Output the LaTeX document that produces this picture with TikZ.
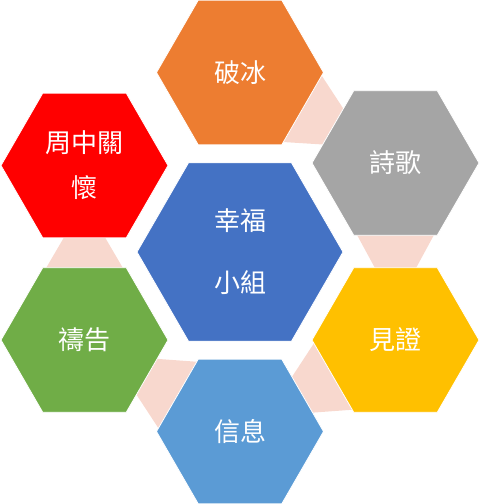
\documentclass[tikz,border=0pt]{standalone}
\usepackage{fontspec}
\usepackage{xcolor}
\usetikzlibrary{calc,shapes.geometric,backgrounds}
\newfontfamily\cjkfont{Noto Sans CJK TC}
\definecolor{hexOrange}{RGB}{237,125,49}
\definecolor{hexGray}{RGB}{165,165,165}
\definecolor{hexGold}{RGB}{255,192,0}
\definecolor{hexSky}{RGB}{91,155,213}
\definecolor{hexGreen}{RGB}{112,173,71}
\definecolor{hexBlue}{RGB}{68,114,196}
\definecolor{hexRed}{RGB}{255,0,0}
\definecolor{linkPink}{RGB}{248,216,206}
% trapezoid between two neighbouring hexagons, wide end at the first one
\newcommand\flowlink[2]{%
  \path ($(#1)!71pt!(#2)$) coordinate (wide) ($(#2)!71pt!(#1)$) coordinate (narrow);
  \fill[linkfill] ($(wide)!39pt!90:(#2)$) -- ($(wide)!39pt!-90:(#2)$)
    -- ($(narrow)!20pt!90:(#1)$) -- ($(narrow)!20pt!-90:(#1)$) -- cycle;}

\begin{document}
\begin{tikzpicture}[x=1pt,y=-1pt,
  hexbox/.style={regular polygon, regular polygon sides=6, minimum size=167pt, inner sep=0pt,
    draw=white, line width=0.8pt, text=white, align=center,
    font=\cjkfont\fontsize{26}{31}\selectfont},
  linkfill/.style={fill=linkPink}]
\useasboundingbox (0,0) rectangle (480,504);

\node[hexbox, fill=hexBlue, minimum size=206pt, font=\cjkfont\fontsize{26}{62}\selectfont] (group) at (240,252) {幸福\\小組};
\node[hexbox, fill=hexOrange] (ice) at (240,72.5) {破冰};
\node[hexbox, fill=hexGray] (song) at (395.5,163) {詩歌};
\node[hexbox, fill=hexGold] (witness) at (395.5,340) {見證};
\node[hexbox, fill=hexSky] (message) at (240,431.5) {信息};
\node[hexbox, fill=hexGreen] (prayer) at (84.5,340) {禱告};
\node[hexbox, fill=hexRed, font=\cjkfont\fontsize{26}{45}\selectfont] (care) at (84.5,165.5) {周中關\\懷};

\begin{scope}[on background layer]
\flowlink{ice}{song}
\flowlink{song}{witness}
\flowlink{witness}{message}
\flowlink{message}{prayer}
\flowlink{prayer}{care}
\end{scope}
\end{tikzpicture}
\end{document}
